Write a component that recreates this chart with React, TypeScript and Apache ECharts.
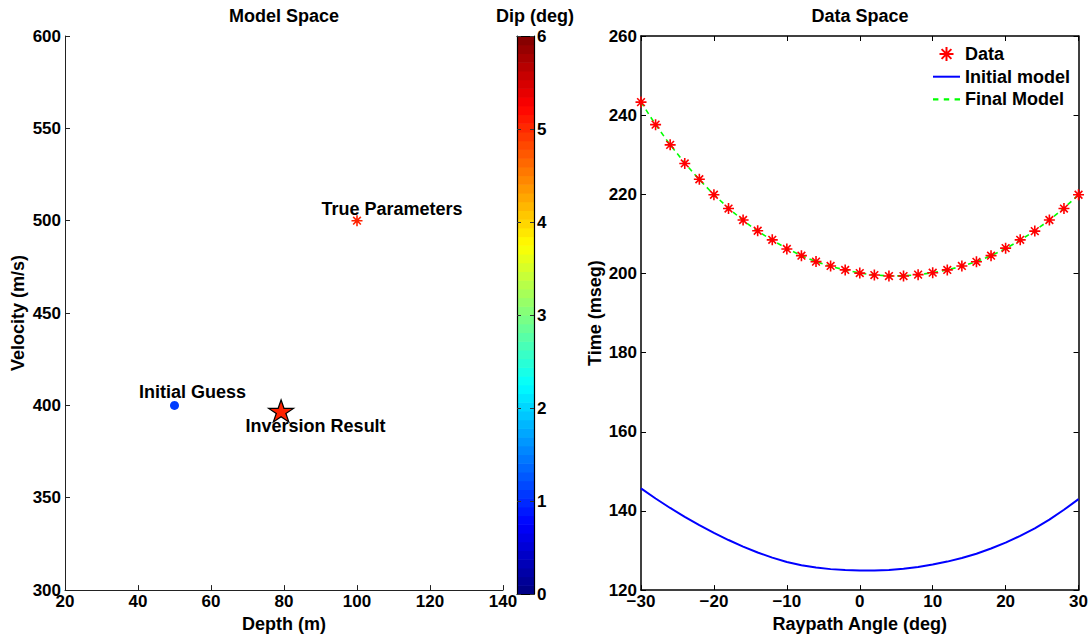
import React, { useEffect, useRef } from "react";
import * as echarts from "echarts";

// ---- Model space (left panel) ----
const modelNames = ["Initial Guess", "True Parameters", "Inversion Result"];
const modelDepth = [50, 100, 79.2];
const modelVelocity = [400, 500, 397];
const modelDip = [1.1, 5.05, 5.05];

// ---- Data space (right panel) ----
const angles = [-30, -28, -26, -24, -22, -20, -18, -16, -14, -12, -10, -8, -6, -4, -2, 0, 2, 4, 6, 8, 10, 12, 14, 16, 18, 20, 22, 24, 26, 28, 30];
const dataTimes = [243.3, 237.6, 232.5, 227.8, 223.8, 219.9, 216.4, 213.5, 210.8, 208.5, 206.2, 204.5, 203.0, 201.9, 200.9, 200.1, 199.6, 199.35, 199.35, 199.7, 200.2, 200.9, 201.9, 202.95, 204.5, 206.4, 208.5, 210.7, 213.5, 216.4, 219.9];
const initialModel = [145.7, 143.15, 140.75, 138.5, 136.4, 134.45, 132.65, 131.0, 129.5, 128.2, 127.1, 126.3, 125.7, 125.3, 125.05, 124.95, 124.95, 125.1, 125.4, 125.85, 126.45, 127.2, 128.1, 129.2, 130.5, 132.0, 133.7, 135.6, 137.8, 140.3, 143.0];
const finalModel = [243.3, 237.6, 232.5, 227.9, 223.7, 219.9, 216.5, 213.4, 210.7, 208.4, 206.3, 204.5, 203.0, 201.8, 200.9, 200.1, 199.6, 199.4, 199.4, 199.7, 200.2, 200.9, 201.8, 203.0, 204.5, 206.3, 208.4, 210.8, 213.5, 216.5, 219.9];

// ---- Colorbar ----
const dipMin = 0;
const dipMax = 6;
const colorbarSteps = 64;

const FONT = "Liberation Sans, Arial, Helvetica, sans-serif";

function clamp01(v: number) {
  return Math.max(0, Math.min(1, v));
}
function jet(x: number) {
  const r = clamp01(1.5 - Math.abs(4 * x - 3));
  const g = clamp01(1.5 - Math.abs(4 * x - 2));
  const b = clamp01(1.5 - Math.abs(4 * x - 1));
  const h = (v: number) => Math.round(v * 255).toString(16).padStart(2, "0");
  return "#" + h(r) + h(g) + h(b);
}
function dipColor(d: number) {
  return jet((d - dipMin) / (dipMax - dipMin));
}

const ASTERISK = "path://M0,-10L0,10M-10,0L10,0M-7,-7L7,7M-7,7L7,-7";
const STAR =
  "path://M0,-1L0.2245,-0.309L0.951,-0.309L0.3633,0.118L0.5878,0.809L0,0.382L-0.5878,0.809L-0.3633,0.118L-0.951,-0.309L-0.2245,-0.309Z";
const LEGEND_SOLID = "path://M0,0L27,0L27,2L0,2Z";
const LEGEND_DASHED = "path://M0,0h5v2h-5zM10,0h5v2h-5zM20,0h5v2h-5z";

const tickLabel = {
  fontSize: 17,
  fontWeight: "bold" as const,
  color: "#000",
  fontFamily: FONT,
};
const nameStyle = {
  fontSize: 18,
  fontWeight: "bold" as const,
  color: "#000",
  fontFamily: FONT,
};
const minusFmt = (v: number) => (v < 0 ? "\u2212" + Math.abs(v) : String(v));

export default function App() {
  const ref = useRef<HTMLDivElement>(null);
  useEffect(() => {
    if (!ref.current) return;
    const chart = echarts.init(ref.current, undefined, { renderer: "svg" });

    const colorbarCells = Array.from({ length: colorbarSteps }, (_, i) => [
      dipMin + ((dipMax - dipMin) * i) / colorbarSteps,
      dipMin + ((dipMax - dipMin) * (i + 1)) / colorbarSteps,
    ]);

    const scatterLabel = (dx: number, dy: number) => ({
      show: true,
      formatter: "{a}",
      position: "inside",
      offset: [dx, dy],
      align: "left",
      verticalAlign: "middle",
      ...nameStyle,
    });

    const axisBase = { axisLine: { onZero: false } };

    const option: any = {
      animation: false,
      backgroundColor: "#fff",
      textStyle: { fontFamily: FONT, fontWeight: "bold" },
      title: [
        { text: "Model Space", left: 284, top: 7, textAlign: "center", padding: 0, textStyle: nameStyle },
        { text: "Data Space", left: 860, top: 7, textAlign: "center", padding: 0, textStyle: nameStyle },
        { text: "Dip (deg)", left: 535, top: 7, textAlign: "center", padding: 0, textStyle: nameStyle },
      ],
      legend: {
        orient: "vertical",
        left: 933,
        top: 45,
        padding: 0,
        itemWidth: 27,
        itemHeight: 14,
        itemGap: 4.7,
        data: [
          { name: "Data" },
          { name: "Initial model", icon: LEGEND_SOLID, itemStyle: { color: "#0000ff", borderWidth: 0 } },
          { name: "Final Model", icon: LEGEND_DASHED, itemStyle: { color: "#00ff00", borderWidth: 0 } },
        ],
        textStyle: { ...nameStyle, lineHeight: 18 },
      },
      grid: [
        { left: 65, top: 36, width: 438, height: 558 },
        { left: 641, top: 36, width: 438, height: 557 },
        { left: 517, top: 36, width: 17, height: 558 },
      ],
      xAxis: [
        {
          gridIndex: 0, type: "value", min: 20, max: 140, interval: 20, position: "bottom",
          axisLine: { onZero: false, lineStyle: { color: "#222", width: 1 } },
          axisTick: { inside: true, length: 5, lineStyle: { color: "#222" } },
          axisLabel: { ...tickLabel, margin: 3 },
          splitLine: { show: false },
          name: "Depth (m)", nameLocation: "middle", nameGap: 19, nameTextStyle: nameStyle,
        },
        {
          gridIndex: 1, type: "value", min: -30, max: 30, interval: 10, position: "bottom",
          axisLine: { onZero: false, lineStyle: { color: "#000", width: 1.5 } },
          axisTick: { inside: true, length: 5, lineStyle: { color: "#000" } },
          axisLabel: { ...tickLabel, margin: 3, formatter: minusFmt },
          splitLine: { show: false },
          name: "Raypath Angle (deg)", nameLocation: "middle", nameGap: 21, nameTextStyle: nameStyle,
        },
        {
          gridIndex: 1, type: "value", min: -30, max: 30, interval: 10, position: "top",
          axisLine: { onZero: false, lineStyle: { color: "#000", width: 1.5 } },
          axisTick: { inside: true, length: 5, lineStyle: { color: "#000" } },
          axisLabel: { show: false },
          splitLine: { show: false },
        },
        {
          gridIndex: 2, type: "value", min: 0, max: 1, position: "bottom", z: 10,
          axisLine: { onZero: false, lineStyle: { color: "#000", width: 1.2 } },
          axisTick: { show: false }, axisLabel: { show: false }, splitLine: { show: false },
        },
        {
          gridIndex: 2, type: "value", min: 0, max: 1, position: "top", z: 10,
          axisLine: { onZero: false, lineStyle: { color: "#000", width: 1.2 } },
          axisTick: { show: false }, axisLabel: { show: false }, splitLine: { show: false },
        },
      ],
      yAxis: [
        {
          gridIndex: 0, type: "value", min: 300, max: 600, interval: 50, position: "left",
          axisLine: { show: true, onZero: false, lineStyle: { color: "#222", width: 1 } },
          axisTick: { show: true, inside: true, length: 5, lineStyle: { color: "#222" } },
          axisLabel: { ...tickLabel, margin: 4 },
          splitLine: { show: false },
          name: "Velocity (m/s)", nameLocation: "middle", nameGap: 38, nameTextStyle: nameStyle,
        },
        {
          gridIndex: 1, type: "value", min: 120, max: 260, interval: 20, position: "left",
          axisLine: { show: true, onZero: false, lineStyle: { color: "#000", width: 1.5 } },
          axisTick: { show: true, inside: true, length: 5, lineStyle: { color: "#000" } },
          axisLabel: { ...tickLabel, margin: 4 },
          splitLine: { show: false },
          name: "Time (mseg)", nameLocation: "middle", nameGap: 37, nameTextStyle: nameStyle,
        },
        {
          gridIndex: 1, type: "value", min: 120, max: 260, interval: 20, position: "right",
          axisLine: { show: true, onZero: false, lineStyle: { color: "#000", width: 1.5 } },
          axisTick: { show: true, inside: true, length: 5, lineStyle: { color: "#000" } },
          axisLabel: { show: false },
          splitLine: { show: false },
        },
        {
          gridIndex: 2, type: "value", min: dipMin, max: dipMax, interval: 1, position: "right", z: 10,
          axisLine: { show: true, onZero: false, lineStyle: { color: "#000", width: 1.2 } },
          axisTick: { show: true, inside: true, length: 4, lineStyle: { color: "#333" } },
          axisLabel: { ...tickLabel, margin: 3 },
          splitLine: { show: false },
        },
        {
          gridIndex: 2, type: "value", min: dipMin, max: dipMax, interval: 1, position: "left", z: 10,
          axisLine: { show: true, onZero: false, lineStyle: { color: "#000", width: 1.2 } },
          axisTick: { show: true, inside: true, length: 4, lineStyle: { color: "#333" } },
          axisLabel: { show: false },
          splitLine: { show: false },
        },
      ],
      series: [
        {
          name: modelNames[0], type: "scatter", xAxisIndex: 0, yAxisIndex: 0,
          data: [[modelDepth[0], modelVelocity[0], modelDip[0]]],
          symbol: "circle", symbolSize: 9,
          itemStyle: { color: dipColor(modelDip[0]), opacity: 1 },
          label: scatterLabel(-35.5, -13),
        },
        {
          name: modelNames[1], type: "scatter", xAxisIndex: 0, yAxisIndex: 0,
          data: [[modelDepth[1], modelVelocity[1], modelDip[1]]],
          symbol: ASTERISK, symbolSize: 11,
          itemStyle: { color: dipColor(modelDip[1]), borderColor: dipColor(modelDip[1]), borderWidth: 1.6, opacity: 1 },
          label: scatterLabel(-35.5, -12),
        },
        {
          name: modelNames[2], type: "scatter", xAxisIndex: 0, yAxisIndex: 0,
          data: [[modelDepth[2], modelVelocity[2], modelDip[2]]],
          symbol: STAR, symbolSize: [25, 22],
          itemStyle: { color: dipColor(modelDip[2]), borderColor: "#000", borderWidth: 1.2, opacity: 1 },
          label: scatterLabel(-35.5, 15),
          z: 3,
        },
        {
          name: "Initial model", type: "line", xAxisIndex: 1, yAxisIndex: 1,
          data: angles.map((a, i) => [a, initialModel[i]]),
          symbol: "none", smooth: false,
          lineStyle: { color: "#0000ff", width: 2 },
          itemStyle: { color: "#0000ff" },
        },
        {
          name: "Final Model", type: "line", xAxisIndex: 1, yAxisIndex: 1,
          data: angles.map((a, i) => [a, finalModel[i]]),
          symbol: "none", smooth: false,
          lineStyle: { color: "#00ff00", width: 1.6, type: [5, 4] },
          itemStyle: { color: "#00ff00" },
        },
        {
          name: "Data", type: "scatter", xAxisIndex: 1, yAxisIndex: 1,
          data: angles.map((a, i) => [a, dataTimes[i]]),
          symbol: ASTERISK, symbolSize: 11,
          itemStyle: { color: "#ff0000", borderColor: "#ff0000", borderWidth: 1.6, opacity: 1 },
          z: 4,
        },
        {
          name: "colorbar", type: "custom", xAxisIndex: 3, yAxisIndex: 3,
          data: colorbarCells,
          silent: true,
          renderItem: (_params: any, api: any) => {
            const lo = api.value(0);
            const hi = api.value(1);
            const p0 = api.coord([0, hi]);
            const p1 = api.coord([1, lo]);
            return {
              type: "rect",
              shape: { x: p0[0], y: p0[1], width: p1[0] - p0[0], height: p1[1] - p0[1] + 0.6 },
              style: { fill: dipColor((lo + hi) / 2) },
            };
          },
        },
      ],
    };
    chart.setOption(option);
    return () => chart.dispose();
  }, []);

  return (
    <div
      ref={ref}
      style={{ position: "fixed", left: 0, top: 0, width: 1091, height: 638, background: "#fff" }}
    />
  );
}
